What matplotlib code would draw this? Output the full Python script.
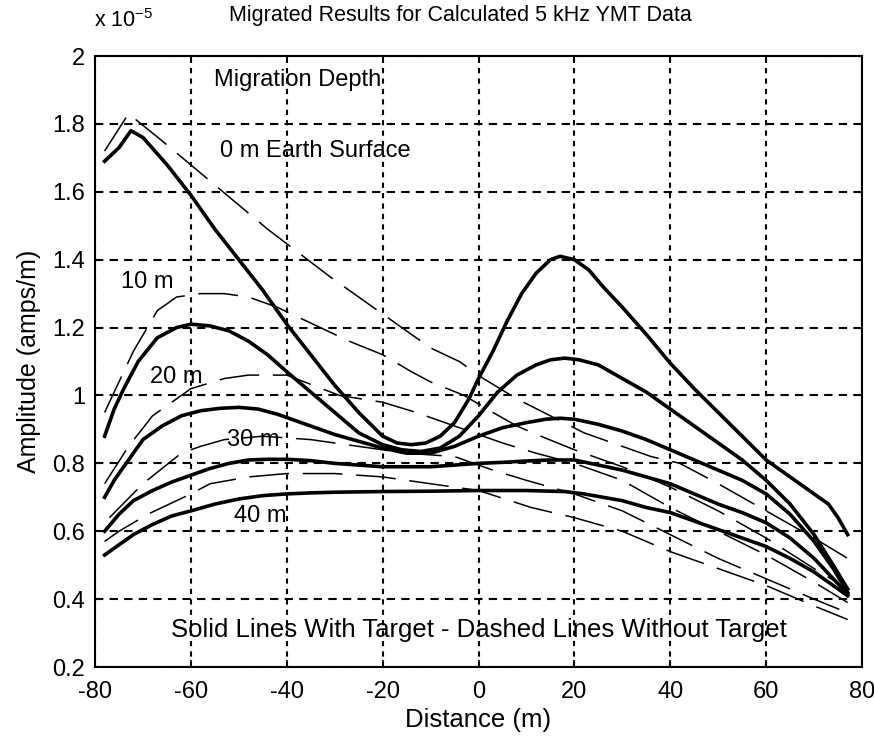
import matplotlib
matplotlib.use("Agg")
import matplotlib.pyplot as plt
from matplotlib import font_manager

names = {f.name for f in font_manager.fontManager.ttflist}
fam = [n for n in ["Liberation Sans Narrow", "Liberation Sans", "DejaVu Sans"] if n in names]
plt.rcParams['font.family'] = fam
plt.rcParams['axes.unicode_minus'] = False

# ---------------- data (amplitudes in units of 1e-5 amps/m) ----------------
x0 = [-78, -75, -72.5, -70, -65, -60, -55, -50, -45, -40, -35, -30, -25, -20, -17, -14, -11, -8, -5,
      -2, 0, 3, 6, 9, 12, 15, 17, 20, 23, 26, 30, 35, 40, 45, 50, 55, 60, 65, 70, 73, 75, 77]
y0 = [1.69, 1.73, 1.78, 1.76, 1.68, 1.59, 1.49, 1.40, 1.31, 1.21, 1.12, 1.03, 0.95, 0.88, 0.86, 0.855,
      0.86, 0.88, 0.92, 0.99, 1.05, 1.13, 1.22, 1.30, 1.36, 1.40, 1.41, 1.40, 1.37, 1.32, 1.26, 1.18,
      1.095, 1.02, 0.95, 0.88, 0.81, 0.76, 0.71, 0.68, 0.64, 0.59]

x10 = [-78, -76, -74, -71, -67, -63, -60, -56, -52, -48, -44, -40, -35, -30, -25, -20, -16, -12, -8,
       -4, 0, 4, 8, 12, 15, 18, 21, 25, 30, 35, 40, 45, 50, 55, 60, 65, 70, 74, 77]
y10 = [0.88, 0.96, 1.02, 1.10, 1.17, 1.20, 1.21, 1.205, 1.19, 1.16, 1.12, 1.07, 1.01, 0.95, 0.89,
       0.855, 0.84, 0.835, 0.845, 0.88, 0.94, 1.01, 1.06, 1.09, 1.105, 1.11, 1.105, 1.09, 1.05, 1.01,
       0.96, 0.91, 0.86, 0.81, 0.75, 0.68, 0.59, 0.50, 0.43]

x20 = [-78, -76, -73, -70, -66, -62, -58, -54, -50, -46, -42, -38, -34, -30, -25, -20, -15, -10, -5,
       0, 5, 10, 14, 17, 20, 25, 30, 35, 40, 45, 50, 55, 60, 65, 70, 74, 77]
y20 = [0.70, 0.75, 0.81, 0.87, 0.91, 0.94, 0.955, 0.962, 0.965, 0.96, 0.945, 0.925, 0.905, 0.885,
       0.865, 0.845, 0.83, 0.83, 0.85, 0.88, 0.905, 0.92, 0.93, 0.933, 0.93, 0.915, 0.895, 0.87, 0.84,
       0.81, 0.78, 0.75, 0.71, 0.65, 0.57, 0.49, 0.42]

x30 = [-78, -75, -72, -68, -64, -60, -56, -52, -48, -44, -40, -35, -30, -25, -20, -15, -10, -5, 0,
       5, 10, 15, 20, 25, 30, 35, 40, 45, 50, 55, 60, 65, 70, 74, 77]
y30 = [0.60, 0.65, 0.69, 0.72, 0.745, 0.765, 0.785, 0.80, 0.81, 0.812, 0.812, 0.808, 0.80, 0.795,
       0.79, 0.79, 0.79, 0.795, 0.80, 0.803, 0.807, 0.81, 0.81, 0.795, 0.78, 0.76, 0.74, 0.71, 0.68,
       0.655, 0.625, 0.58, 0.52, 0.46, 0.415]

x40 = [-78, -75, -72, -68, -64, -60, -55, -50, -45, -40, -35, -30, -20, -10, 0, 10, 18, 22, 26, 30,
       35, 40, 45, 50, 55, 60, 65, 70, 74, 77]
y40 = [0.53, 0.56, 0.59, 0.62, 0.645, 0.66, 0.68, 0.695, 0.705, 0.71, 0.713, 0.715, 0.717, 0.718,
       0.72, 0.72, 0.717, 0.71, 0.70, 0.69, 0.67, 0.655, 0.63, 0.605, 0.58, 0.555, 0.52, 0.48, 0.44, 0.41]

# dashed: without target
xd0 = [-78, -73, -66, -55, -44, -31, -18, -10, -4, 1, 8, 15, 22, 30, 36, 42, 50, 60, 70, 77]
yd0 = [1.72, 1.83, 1.75, 1.62, 1.49, 1.35, 1.22, 1.14, 1.10, 1.05, 0.99, 0.94, 0.89, 0.85, 0.82, 0.80,
       0.74, 0.66, 0.58, 0.52]

xd10 = [-78, -72, -67, -63, -58, -53, -48, -42, -36, -27, -20, -14, -10, -3, 3, 8, 13, 20, 30, 40,
        50, 60, 70, 77]
yd10 = [0.95, 1.13, 1.25, 1.29, 1.30, 1.30, 1.29, 1.26, 1.22, 1.16, 1.12, 1.07, 1.04, 1.00, 0.95,
        0.91, 0.88, 0.84, 0.79, 0.73, 0.66, 0.58, 0.49, 0.43]

xd20 = [-78, -73, -68, -64, -60, -53, -48, -40, -29, -20, -13, -5, 5, 12, 20, 30, 40, 50, 60, 70, 77]
yd20 = [0.74, 0.85, 0.94, 0.98, 1.02, 1.05, 1.06, 1.06, 1.00, 0.98, 0.95, 0.91, 0.86, 0.83, 0.80,
        0.75, 0.67, 0.60, 0.53, 0.45, 0.39]

xd30 = [-77, -70, -62, -58, -53, -45, -35, -25, -15, -5, 3, 10, 20, 30, 40, 50, 60, 70, 77]
yd30 = [0.64, 0.74, 0.83, 0.85, 0.87, 0.88, 0.87, 0.85, 0.83, 0.82, 0.78, 0.75, 0.71, 0.66, 0.59,
        0.52, 0.46, 0.40, 0.36]

xd40 = [-78, -75, -69, -60, -56, -48, -40, -30, -20, -10, 0, 11, 20, 30, 40, 50, 60, 70, 77]
yd40 = [0.57, 0.60, 0.65, 0.71, 0.74, 0.76, 0.77, 0.77, 0.76, 0.74, 0.72, 0.67, 0.64, 0.60, 0.54,
        0.49, 0.44, 0.38, 0.34]

xticks = [-80, -60, -40, -20, 0, 20, 40, 60, 80]
yticks = [0.2, 0.4, 0.6, 0.8, 1.0, 1.2, 1.4, 1.6, 1.8, 2.0]
ytick_labels = ["0.2", "0.4", "0.6", "0.8", "1", "1.2", "1.4", "1.6", "1.8", "2"]

# ---------------- figure ----------------
fig = plt.figure(figsize=(8.74, 7.4), dpi=100)
ax = fig.add_axes([0.1087, 0.0986, 0.8776, 0.8257])

ax.set_xlim(-80, 80)
ax.set_ylim(0.2, 2.0)
ax.set_xticks(xticks)
ax.set_yticks(yticks)
ax.set_yticklabels(ytick_labels)
ax.tick_params(direction='in', length=5, top=True, right=True, labelsize=17, width=1.2)
ax.tick_params(axis='x', pad=10)
ax.tick_params(axis='y', pad=7)

ax.xaxis.grid(True, color='black', linestyle=(0, (2.5, 2.5)), linewidth=1.5)
ax.yaxis.grid(True, color='black', linestyle=(0, (4, 3)), linewidth=1.5)
ax.set_axisbelow(True)
for s in ax.spines.values():
    s.set_linewidth(1.5)

for xs, ys in [(xd0, yd0), (xd10, yd10), (xd20, yd20), (xd30, yd30), (xd40, yd40)]:
    ax.plot(xs, ys, color='black', linewidth=1.1, linestyle=(0, (26, 9)), zorder=3)

for xs, ys in [(x0, y0), (x10, y10), (x20, y20), (x30, y30), (x40, y40)]:
    ax.plot(xs, ys, color='black', linewidth=2.6, solid_joinstyle='round', zorder=4)

fs = 17
ax.text(-55.2, 1.93, "Migration Depth", fontsize=fs, va='center', ha='left')
ax.text(-54, 1.72, "0 m Earth Surface", fontsize=fs, va='center', ha='left')
ax.text(-74.5, 1.335, "10 m", fontsize=fs, va='center', ha='left')
ax.text(-68.5, 1.055, "20 m", fontsize=fs, va='center', ha='left')
ax.text(-52.5, 0.87, "30 m", fontsize=fs, va='center', ha='left')
ax.text(-51, 0.645, "40 m", fontsize=fs, va='center', ha='left')
ax.text(0, 0.31, "Solid Lines With Target - Dashed Lines Without Target", fontsize=18.5,
        va='center', ha='center')

ax.set_xlabel("Distance (m)", fontsize=18.5, labelpad=4)
ax.set_ylabel("Amplitude (amps/m)", fontsize=18, labelpad=8)
fig.text(0.527, 0.979, "Migrated Results for Calculated 5 kHz YMT Data", fontsize=15.5,
         ha='center', va='center')
fig.text(0.108, 0.972, r"x 10$^{\mathregular{-5}}$", fontsize=15.5, ha='left', va='center')

fig.savefig("out.png", dpi=100)
